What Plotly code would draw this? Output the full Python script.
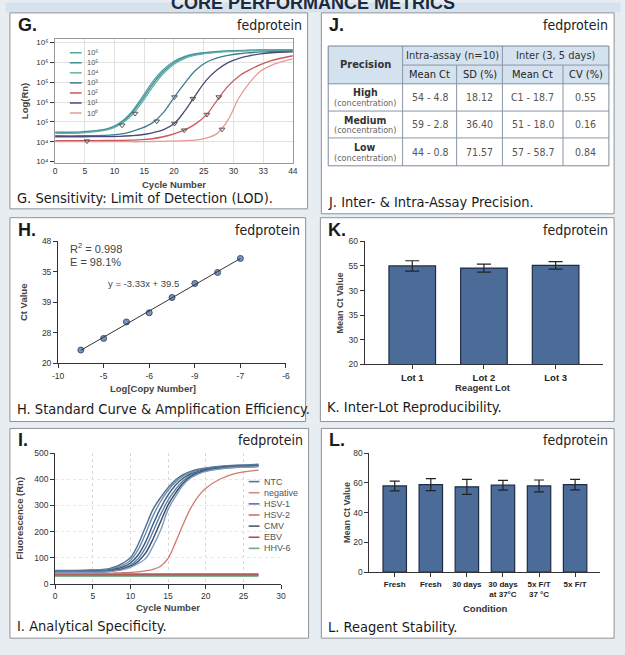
import numpy as np
import plotly.graph_objects as go

W, H = 625, 655

# ---------------- data ----------------
# G. amplification curves (y in log units, tick positions 0..6)
G_CYCLES = [0, 5, 10, 12, 14, 16, 18, 20, 22, 24, 26, 28, 30, 32, 34, 36, 38, 40, 44]
G_NAMES = ["10⁶", "10⁵", "10⁴", "10³", "10²", "10¹", "10⁰"]
G_CURVES = [
    [1.45, 1.47, 1.68, 1.95, 2.45, 3.20, 4.00, 4.62, 5.05, 5.30, 5.43, 5.50, 5.55, 5.58, 5.60, 5.61, 5.62, 5.63, 5.64],
    [1.48, 1.50, 1.66, 1.90, 2.38, 3.08, 3.88, 4.52, 4.98, 5.26, 5.40, 5.48, 5.53, 5.56, 5.58, 5.60, 5.61, 5.62, 5.63],
    [1.42, 1.44, 1.62, 1.86, 2.28, 2.95, 3.74, 4.42, 4.90, 5.20, 5.36, 5.45, 5.50, 5.54, 5.56, 5.58, 5.60, 5.61, 5.62],
    [1.30, 1.30, 1.33, 1.38, 1.50, 1.68, 1.95, 2.45, 3.22, 3.95, 4.60, 5.00, 5.22, 5.35, 5.43, 5.48, 5.52, 5.54, 5.56],
    [1.05, 1.05, 1.06, 1.07, 1.08, 1.10, 1.15, 1.25, 1.40, 1.60, 1.90, 2.35, 3.10, 3.80, 4.30, 4.62, 4.88, 5.08, 5.33],
    [1.25, 1.25, 1.26, 1.27, 1.30, 1.35, 1.45, 1.60, 1.90, 2.55, 3.35, 4.10, 4.62, 4.98, 5.20, 5.33, 5.42, 5.48, 5.53],
    [1.00, 1.00, 1.00, 1.00, 1.00, 1.00, 1.01, 1.02, 1.03, 1.05, 1.08, 1.18, 1.42, 2.10, 3.20, 3.98, 4.55, 4.85, 5.17],
]
G_COLORS = ["#58a3a0", "#3f8f95", "#66b0aa", "#3b7d8c", "#c85c5c", "#4b4a78", "#e69a96"]
G_MARK_X = [5.9, 12.4, 14.8, 18.8, 22.1, 22.1, 25.5, 23.9, 28.1, 30.3, 30.9]
G_MARK_Y = [1.03, 1.83, 2.42, 2.03, 3.25, 1.92, 3.17, 1.58, 2.37, 3.25, 1.62]
G_XTICKS = ["0", "5", "10", "15", "20", "25", "30", "33", "44"]
G_YTICKS = ["10⁴", "10⁴", "10⁵", "10⁶", "10⁵", "10⁶", "10⁶"]

# H. standard curve
H_LOGCOPY = [-9.5, -9.0, -8.5, -8.0, -7.5, -7.0, -6.5, -6.0]
H_CT = [22.2, 24.1, 26.8, 28.3, 30.8, 33.1, 34.9, 37.2]
H_XTICKS = ["-10", "-5", "-6", "-9", "-7", "-6"]
H_YTICKS = ["20", "28", "39", "35", "48"]

# I. specificity curves
I_CYCLES = [0, 4, 7, 8, 9, 10, 11, 12, 13, 14, 15, 16, 17, 18, 19, 20, 22, 24, 27]
I_POSITIVE = [
    [52, 53, 58, 66, 80, 100, 150, 218, 285, 330, 368, 398, 418, 430, 438, 443, 450, 454, 457],
    [50, 51, 55, 61, 72, 90, 130, 192, 260, 315, 358, 390, 412, 426, 435, 441, 448, 452, 455],
    [48, 49, 52, 57, 65, 80, 110, 160, 228, 290, 340, 378, 404, 420, 430, 437, 446, 450, 453],
    [47, 47, 50, 54, 60, 72, 96, 138, 200, 265, 320, 362, 394, 414, 426, 434, 443, 448, 451],
    [46, 46, 48, 52, 57, 67, 86, 118, 172, 238, 302, 348, 386, 409, 423, 432, 441, 446, 449],
    [45, 45, 47, 50, 55, 64, 78, 97, 145, 205, 285, 335, 378, 405, 420, 430, 440, 445, 448],
]
I_POS_COLORS = ["#4f6d8f", "#6a8bb0", "#3d5878", "#5b7fa6", "#2f4a66", "#7f9cbd"]
I_LATE = [40, 40, 41, 42, 43, 44, 46, 50, 56, 68, 98, 160, 228, 290, 335, 366, 402, 422, 435]
I_FLAT_X = [0, 27]
I_FLAT_RED = [38, 38]
I_FLAT_DARK = [34, 34]
I_FLAT_GREEN = [31, 31]
I_LEGEND = ["NTC", "negative", "HSV-1", "HSV-2", "CMV", "EBV", "HHV-6"]
I_LEG_COLORS = ["#5a7390", "#d98a80", "#5878a0", "#d07262", "#4a5a70", "#b05050", "#7fa392"]

# J. precision table
J_ROWS = ["High", "Medium", "Low"]
J_ROW_SUB = ["(concentration)", "(concentration)", "(concentration)"]
J_INTRA_MEAN = ["54 - 4.8", "59 - 2.8", "44 - 0.8"]
J_INTRA_SD = ["18.12", "36.40", "71.57"]
J_INTER_MEAN = ["C1 - 18.7", "51 - 18.0", "57 - 58.7"]
J_INTER_CV = ["0.55", "0.16", "0.84"]
J_GROUPS = ["Intra-assay (n=10)", "Inter (3, 5 days)"]
J_SUBHEAD = ["Mean Ct", "SD (%)", "Mean Ct", "CV (%)"]

# K. inter-lot
K_LOTS = ["Lot 1", "Lot 2", "Lot 3"]
K_MEAN = [52.0, 51.3, 52.2]
K_ERR = [1.7, 1.3, 1.2]
K_YTICKS = ["20", "30", "35", "30", "55", "60"]

# L. reagent stability
L_CONDITIONS = ["Fresh", "Fresh", "30 days", "30 days<br>at 37°C", "5x F/T<br>37 °C", "5x F/T"]
L_MEAN = [57.9, 58.8, 57.3, 58.4, 57.9, 58.8]
L_ERR = [3.3, 4.0, 5.0, 3.3, 4.0, 3.5]

# ---------------- helpers ----------------
NARROW = "DejaVu Sans Condensed, Liberation Sans Narrow, Arial Narrow, sans-serif"
SANS = "Liberation Sans, Arial, sans-serif"
BAR = "#4b6c98"
BAR_EDGE = "#1e2c42"


def fx(x):
    return x / W


def fy(y):
    return 1 - y / H


def dom_x(a, b):
    return [fx(a), fx(b)]


def dom_y(top, bottom):
    return [fy(bottom), fy(top)]


def axis(**kw):
    base = dict(showline=True, linecolor="#333", linewidth=1, ticks="outside", ticklen=4,
                tickcolor="#333", tickfont=dict(size=8.5, color="#333", family=SANS),
                zeroline=False, showgrid=False, fixedrange=True)
    base.update(kw)
    return base


annotations = []
shapes = []


def text(x, y, s, size=10, color="#333", xanchor="center", yanchor="middle", family=SANS, angle=0):
    annotations.append(dict(x=fx(x), y=fy(y), xref="paper", yref="paper", text=s, showarrow=False,
                            xanchor=xanchor, yanchor=yanchor, textangle=angle,
                            font=dict(size=size, color=color, family=family)))


def line(x0, y0, x1, y1, color="#8a96a6", width=1):
    shapes.append(dict(type="line", xref="paper", yref="paper", x0=fx(x0), y0=fy(y0), x1=fx(x1), y1=fy(y1),
                       line=dict(color=color, width=width)))


def rect(x0, y0, x1, y1, fill="white", color="#8d9399", width=1, layer="below"):
    shapes.append(dict(type="rect", xref="paper", yref="paper", x0=fx(x0), y0=fy(y0), x1=fx(x1), y1=fy(y1),
                       fillcolor=fill, line=dict(color=color, width=width), layer=layer))


def panel(x0, y0, x1, y1, letter, caption, cap_y):
    rect(x0, y0, x1, y1)
    text(x0 + 6, y0 + 12, "<b>" + letter + "</b>", size=18, color="#1a1a1a", xanchor="left", family=SANS)
    text(x1 - 4, y0 + 12, "fedprotein", size=14, color="#222", xanchor="right", family=NARROW)
    text(x0 + 5, cap_y, caption, size=14.5, color="#1a1a1a", xanchor="left", family=NARROW)


fig = go.Figure()

# ---------------- header band & panels ----------------
rect(0, -2, W, 7, fill="#d6e2ee", color="#d6e2ee")
text(W / 2, -2.5, "<b>CORE PERFORMANCE METRICS</b>", size=18, color="#1c2a3c")

panel(4, 8, 307, 207, "G.", "G. Sensitivity: Limit of Detection (LOD).", 196)
panel(321, 8, 619, 212, "J.", "J. Inter- & Intra-Assay Precision.", 200)
panel(4, 216, 305, 423, "H.", "H. Standard Curve & Amplification Efficiency.", 410)
panel(320, 216, 619, 423, "K.", "K. Inter-Lot Reproducibility.", 408)
panel(4, 430, 308, 643, "I.", "I. Analytical Specificity.", 631)
panel(321, 430, 619, 643, "L.", "L. Reagent Stability.", 632)

# ---------------- G ----------------
for ys, c in zip(G_CURVES, G_COLORS):
    fig.add_trace(go.Scatter(x=G_CYCLES, y=ys, xaxis="x", yaxis="y", mode="lines",
                             line=dict(color=c, width=1.3, shape="spline"), showlegend=False))
fig.add_trace(go.Scatter(x=G_MARK_X, y=G_MARK_Y, xaxis="x", yaxis="y", mode="markers",
                         marker=dict(symbol="triangle-down-open", size=5, color="#555", line=dict(width=1)),
                         showlegend=False))
for i, (n, c) in enumerate(zip(G_NAMES, G_COLORS)):
    yy = 48.5 + i * 10.2
    line(65, yy, 77, yy, color=c, width=1.5)
    text(80, yy, n, size=7.5, color="#555", xanchor="left")
text(171, 182, "<b>Cycle Number</b>", size=9.5, color="#444")
text(19, 98, "<b>Log(Rn)</b>", size=9.5, color="#444", angle=-90)

# ---------------- H ----------------
fig.add_trace(go.Scatter(x=H_LOGCOPY, y=H_CT, xaxis="x2", yaxis="y2", mode="markers",
                         marker=dict(size=6, color="#7894bb", line=dict(color="#3b5578", width=1)),
                         showlegend=False))
slope, icpt = np.polyfit(H_LOGCOPY, H_CT, 1)
fit_x = [min(H_LOGCOPY), max(H_LOGCOPY)]
fig.add_trace(go.Scatter(x=fit_x, y=[slope * v + icpt for v in fit_x], xaxis="x2", yaxis="y2", mode="lines",
                         line=dict(color="#333", width=1), showlegend=False))
text(63, 247, "R<sup>2</sup> = 0.998", size=11, color="#444", xanchor="left")
text(63, 261, "E = 98.1%", size=11, color="#444", xanchor="left")
text(102, 283, "y = -3.33x + 39.5", size=9.5, color="#444", xanchor="left")
text(150, 389, "<b>Log[Copy Number]</b>", size=9.5, color="#444")
text(18, 302, "<b>Ct Value</b>", size=9.5, color="#444", angle=-90)

# ---------------- I ----------------
for xs, c in ((I_FLAT_DARK, "#4a5a6a"), (I_FLAT_GREEN, "#5a9a6a"), (I_FLAT_RED, "#c0504d")):
    fig.add_trace(go.Scatter(x=I_FLAT_X, y=xs, xaxis="x3", yaxis="y3", mode="lines",
                             line=dict(color=c, width=1.6), showlegend=False))
fig.add_trace(go.Scatter(x=I_CYCLES, y=I_LATE, xaxis="x3", yaxis="y3", mode="lines",
                         line=dict(color="#d07a6e", width=1.3, shape="spline"), showlegend=False))
for ys, c in zip(I_POSITIVE, I_POS_COLORS):
    fig.add_trace(go.Scatter(x=I_CYCLES, y=ys, xaxis="x3", yaxis="y3", mode="lines",
                             line=dict(color=c, width=1.4, shape="spline"), showlegend=False))
for i, (n, c) in enumerate(zip(I_LEGEND, I_LEG_COLORS)):
    yy = 484 + i * 11.3
    line(247, yy, 258, yy, color=c, width=1.6)
    text(261, yy, n, size=9, color="#555", xanchor="left")
text(165, 612, "<b>Cycle Number</b>", size=9.5, color="#444")
text(13, 521, "<b>Fluorescence (Rn)</b>", size=9.5, color="#444", angle=-90)

# ---------------- J (table) ----------------
cx = [328, 403.7, 458.7, 505.3, 567, 613.7]
ry = [41.7, 61, 80, 107.7, 135, 163.3]
rect(cx[0], ry[0], cx[-1], ry[2], fill="#d4e1ee", color="#d4e1ee", layer="above")
for y in ry[2:-1]:
    line(cx[0], y, cx[-1], y)
line(cx[1], ry[1], cx[-1], ry[1])
for k, x in enumerate(cx[1:-1], start=1):
    line(x, ry[0] if k in (1, 3) else ry[1], x, ry[-1])
rect(cx[0], ry[0], cx[-1], ry[-1], fill="rgba(0,0,0,0)", color="#7d8a9a", layer="above")
text((cx[0] + cx[1]) / 2, (ry[0] + ry[2]) / 2, "<b>Precision</b>", size=11, color="#333", family=NARROW)
text((cx[1] + cx[3]) / 2, (ry[0] + ry[1]) / 2, J_GROUPS[0], size=11, color="#333", family=NARROW)
text((cx[3] + cx[5]) / 2, (ry[0] + ry[1]) / 2, J_GROUPS[1], size=11, color="#333", family=NARROW)
for k, s in enumerate(J_SUBHEAD):
    text((cx[k + 1] + cx[k + 2]) / 2, (ry[1] + ry[2]) / 2, s, size=11, color="#222", family=NARROW)
body = [J_INTRA_MEAN, J_INTRA_SD, J_INTER_MEAN, J_INTER_CV]
for r in range(3):
    yc = (ry[r + 2] + ry[r + 3]) / 2
    text((cx[0] + cx[1]) / 2, yc - 5, "<b>" + J_ROWS[r] + "</b>", size=10.5, color="#333", family=NARROW)
    text((cx[0] + cx[1]) / 2, yc + 6, J_ROW_SUB[r], size=9, color="#666", family=NARROW)
    for k, col in enumerate(body):
        text((cx[k + 1] + cx[k + 2]) / 2, yc, col[r], size=10.5, color="#555", family=NARROW)

# ---------------- K ----------------
fig.add_trace(go.Bar(x=list(range(len(K_LOTS))), y=K_MEAN, xaxis="x4", yaxis="y4", width=0.65,
                     marker=dict(color=BAR, line=dict(color=BAR_EDGE, width=1.2)),
                     error_y=dict(type="data", array=K_ERR, color="#222", thickness=1.2, width=7),
                     showlegend=False))
text(486, 388, "<b>Reagent Lot</b>", size=9.5, color="#333")
text(340, 303, "<b>Mean Ct Value</b>", size=9, color="#444", angle=-90)

# ---------------- L ----------------
fig.add_trace(go.Bar(x=list(range(len(L_CONDITIONS))), y=L_MEAN, xaxis="x5", yaxis="y5", width=0.65,
                     marker=dict(color=BAR, line=dict(color=BAR_EDGE, width=1.2)),
                     error_y=dict(type="data", array=L_ERR, color="#222", thickness=1.2, width=5),
                     showlegend=False))
text(488, 613, "<b>Condition</b>", size=9.5, color="#333")
text(347, 515, "<b>Mean Ct Value</b>", size=9, color="#444", angle=-90)

fig.update_layout(
    width=W, height=H, margin=dict(l=0, r=0, t=0, b=0),
    paper_bgcolor="#e8edf2", plot_bgcolor="white",
    font=dict(family=SANS, color="#333"),
    showlegend=False,
    xaxis=axis(domain=dom_x(50, 292), anchor="y", range=[0, 44],
               tickvals=[i * 5.5 for i in range(len(G_XTICKS))], ticktext=G_XTICKS,
               showgrid=True, gridcolor="#e2e2e2", mirror=True, linecolor="#999", ticks=""),
    yaxis=axis(domain=dom_y(35, 160), anchor="x", range=[-0.05, 6.15],
               tickvals=list(range(len(G_YTICKS))), ticktext=G_YTICKS,
               showgrid=True, gridcolor="#e2e2e2", mirror=True, linecolor="#999",
               tickfont=dict(size=8, color="#333", family=SANS)),
    xaxis2=axis(domain=dom_x(53, 285), anchor="y2", range=[-10, -5],
                tickvals=[-10, -9, -8, -7, -6, -5], ticktext=H_XTICKS),
    yaxis2=axis(domain=dom_y(240, 364), anchor="x2", range=[20, 40],
                tickvals=[20, 25, 30, 35, 40], ticktext=H_YTICKS),
    xaxis3=axis(domain=dom_x(50, 280), anchor="y3", range=[0, 30], dtick=5,
                showgrid=True, gridcolor="#d8d8d8", griddash="dot"),
    yaxis3=axis(domain=dom_y(455, 588), anchor="x3", range=[0, 500], dtick=100,
                showgrid=True, gridcolor="#e6e6e6", griddash="dot"),
    xaxis4=axis(domain=dom_x(365, 608), anchor="y4", range=[-0.665, 2.665],
                tickvals=list(range(len(K_LOTS))), ticktext=["<b>" + s + "</b>" for s in K_LOTS],
                tickfont=dict(size=9.5, color="#222", family=SANS)),
    yaxis4=axis(domain=dom_y(240, 365), anchor="x4", range=[20, 60],
                tickvals=[20, 28, 36, 44, 52, 60], ticktext=K_YTICKS),
    xaxis5=axis(domain=dom_x(370, 605), anchor="y5", range=[-0.7, 5.7],
                tickvals=list(range(len(L_CONDITIONS))), ticktext=["<b>" + s + "</b>" for s in L_CONDITIONS],
                tickfont=dict(size=8, color="#222", family=SANS)),
    yaxis5=axis(domain=dom_y(455, 576), anchor="x5", range=[0, 80], dtick=20),
    annotations=annotations,
    shapes=shapes,
)

# drop the default page margin so the figure sits at the window's corner
fig.write_html("out.html", config={"displayModeBar": False},
               post_script="document.body.style.margin = '0';")
